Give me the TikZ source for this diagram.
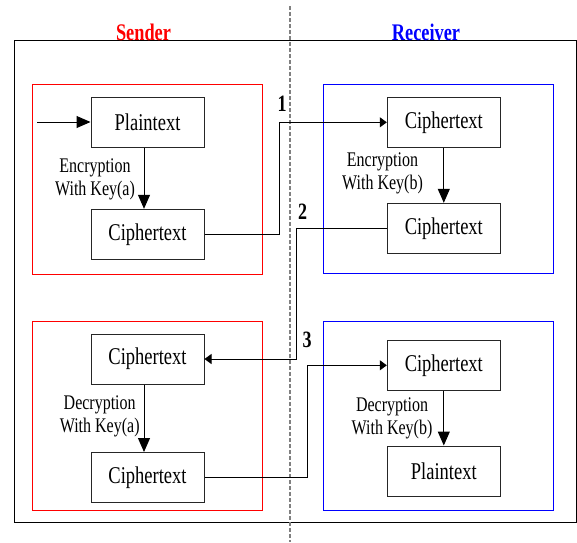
\documentclass[tikz,border=0pt]{standalone}
\usepackage{fontspec}
\setmainfont{Liberation Serif}
\usepackage{graphicx}
\usetikzlibrary{arrows.meta}

\newcommand{\tall}[1]{\scalebox{1}[1.3]{#1}}
\newcommand{\twoline}[2]{\tall{\begin{tabular}{@{}c@{}}#1\\#2\end{tabular}}}

\tikzset{
  txtbox/.style={draw=black!85, line width=0.5pt, minimum width=56.5pt, minimum height=25pt,
    inner sep=0pt, font=\fontsize{9.25}{11}\selectfont},
  keylab/.style={inner sep=0pt, font=\fontsize{8}{9}\selectfont},
  numlab/.style={inner sep=0pt, font=\fontsize{9}{10}\selectfont\bfseries},
  title/.style={inner sep=0pt, font=\fontsize{9.15}{11}\selectfont\bfseries},
  bigarr/.style={-{Triangle[length=7pt,width=6pt]}, line width=0.5pt},
  smallarr/.style={-{Triangle[length=3.5pt,width=5pt]}, line width=0.5pt},
}

\begin{document}
\begin{tikzpicture}[x=0.5pt,y=-0.5pt]
\useasboundingbox (0,0) rectangle (577,542);

% frames
\draw[line width=0.5pt] (14.5,40) rectangle (576,522);
\draw[gray, line width=0.7pt, dash pattern=on 2pt off 1pt] (290,6) -- (290,542);
\draw[red, line width=0.5pt] (32,84) rectangle (262,274);
\draw[red, line width=0.5pt] (32,321) rectangle (262,510);
\draw[blue, line width=0.5pt] (323.3,84.3) rectangle (553.7,273.3);
\draw[blue, line width=0.5pt] (323.3,321) rectangle (553.7,510);

\node[title, text=red] (snd) at (143.5,32) {\tall{Sender}};
\node[title, text=blue] (rcv) at (426,32) {\tall{Receiver}};

% sender
\node[txtbox] (pa) at (147.5,122) {\tall{Plaintext}};
\node[txtbox] (ca) at (147.5,234.3) {\tall{Ciphertext}};
\node[txtbox] (cc) at (147.5,359) {\tall{Ciphertext}};
\node[txtbox] (cd) at (147.5,477.5) {\tall{Ciphertext}};

% receiver
\node[txtbox] (cb) at (443.8,122.3) {\tall{Ciphertext}};
\node[txtbox] (cb2) at (443.8,228.3) {\tall{Ciphertext}};
\node[txtbox] (ce) at (443.8,365.3) {\tall{Ciphertext}};
\node[txtbox] (pb) at (443.8,471) {\tall{Plaintext}};

\node[keylab] (enca) at (95,179.5) {\twoline{Encryption}{With Key(a)}};
\node[keylab] (encb) at (382.5,173.3) {\twoline{Encryption}{With Key(b)}};
\node[keylab] (deca) at (99.7,416.5) {\twoline{Decryption}{With Key(a)}};
\node[keylab] (decb) at (392,418.3) {\twoline{Decryption}{With Key(b)}};

\node[numlab] (n1) at (282,104) {\tall{1}};
\node[numlab] (n2) at (302.5,211.5) {\tall{2}};
\node[numlab] (n3) at (307,340) {\tall{3}};

\coordinate (in) at (37,122);
\coordinate (k1) at (279,0);
\coordinate (k2) at (296,0);
\coordinate (k3) at (307,0);

\draw[bigarr] (in) -- (pa.west);
\draw[bigarr] ([xshift=-1.75pt]pa.south) -- ([xshift=-1.75pt]ca.north);
\draw[bigarr] ([xshift=-1.75pt]cc.south) -- ([xshift=-1.75pt]cd.north);
\draw[bigarr] (cb.south) -- (cb2.north);
\draw[bigarr] (ce.south) -- (pb.north);

\draw[smallarr] (ca.east) -| (k1 |- cb.west) -- (cb.west);
\draw[smallarr] (cb2.west) -| (k2 |- cc.east) -- (cc.east);
\draw[smallarr] (cd.east) -| (k3 |- ce.west) -- (ce.west);

\end{tikzpicture}
\end{document}
